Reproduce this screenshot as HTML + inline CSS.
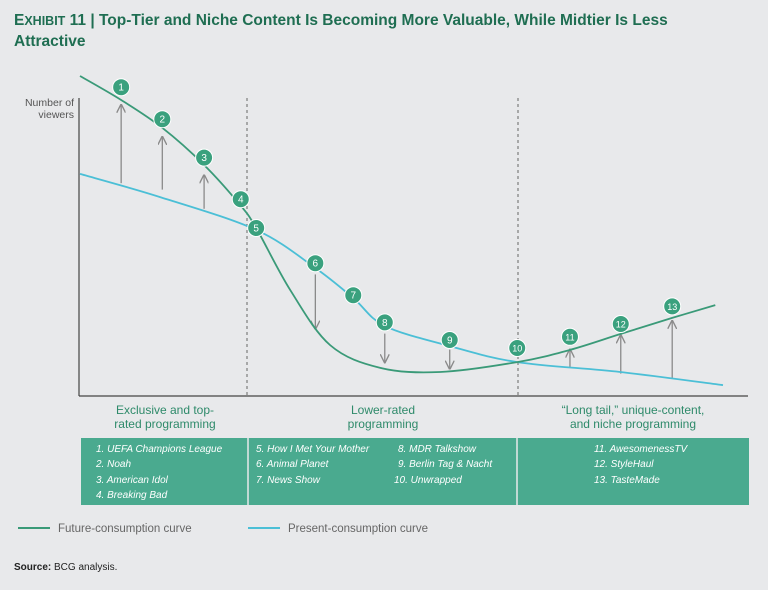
<!DOCTYPE html>
<html><head><meta charset="utf-8"><style>
body{margin:0;background:#e8e9eb;width:768px;height:585px;overflow:hidden;font-family:"Liberation Sans",sans-serif}
</style></head><body>
<svg width="768" height="585" id="svg">
<defs><marker id="ah" viewBox="0 0 10 10" refX="9" refY="5" markerWidth="7" markerHeight="7" orient="auto"><path d="M0,0 L10,5 L0,10" fill="none" stroke="#8a8a8a" stroke-width="1.5"/></marker></defs>
<text x="14" y="25" font-size="15.5" font-weight="bold" fill="#1f6e52"><tspan>E</tspan><tspan font-size="12.5">XHIBIT</tspan> 11 | Top-Tier and Niche Content Is Becoming More Valuable, While Midtier Is Less</text>
<text x="14" y="46" font-size="15.5" font-weight="bold" fill="#1f6e52">Attractive</text>
<text x="74" y="106" font-size="10.5" fill="#555" text-anchor="end">Number of</text>
<text x="74" y="118" font-size="10.5" fill="#555" text-anchor="end">viewers</text>
<line x1="79" y1="98" x2="79" y2="396" stroke="#444" stroke-width="1.2"/>
<line x1="79" y1="396" x2="748" y2="396" stroke="#444" stroke-width="1.2"/>
<line x1="247" y1="98" x2="247" y2="396" stroke="#666" stroke-dasharray="3,3"/>
<line x1="518" y1="98" x2="518" y2="396" stroke="#666" stroke-dasharray="3,3"/>
<g id="arrows"></g><g id="curves"></g><g id="marks"></g>
<g font-size="12" fill="#2e8a6a" text-anchor="middle">
<text x="165" y="414">Exclusive and top-</text>
<text x="165" y="428">rated programming</text>
<text x="383" y="414">Lower-rated</text>
<text x="383" y="428">programming</text>
<text x="633" y="414">“Long tail,” unique-content,</text>
<text x="633" y="428">and niche programming</text>
</g>
<rect x="81" y="438" width="668" height="67" fill="#4aaa8f"/>
<line x1="248" y1="438" x2="248" y2="505" stroke="#e8e9eb" stroke-width="1.5"/>
<line x1="517" y1="438" x2="517" y2="505" stroke="#e8e9eb" stroke-width="1.5"/>
<g font-size="10" fill="#fff" font-style="italic">
<text x="96" y="452">1. UEFA Champions League</text>
<text x="96" y="467">2. Noah</text>
<text x="96" y="483">3. American Idol</text>
<text x="96" y="498">4. Breaking Bad</text>
<text x="256" y="452">5. How I Met Your Mother</text>
<text x="256" y="467">6. Animal Planet</text>
<text x="256" y="483">7. News Show</text>
<text x="398" y="452">8. MDR Talkshow</text>
<text x="398" y="467">9. Berlin Tag &amp; Nacht</text>
<text x="394" y="483">10. Unwrapped</text>
<text x="594" y="452">11. AwesomenessTV</text>
<text x="594" y="467">12. StyleHaul</text>
<text x="594" y="483">13. TasteMade</text>
</g>
<line x1="18" y1="528" x2="50" y2="528" stroke="#3a9a78" stroke-width="2"/>
<text x="58" y="532" font-size="11.5" fill="#666">Future-consumption curve</text>
<line x1="248" y1="528" x2="280" y2="528" stroke="#4bbfd6" stroke-width="2"/>
<text x="288" y="532" font-size="11.5" fill="#666">Present-consumption curve</text>
<text x="14" y="570" font-size="10" fill="#222"><tspan font-weight="bold">Source:</tspan> BCG analysis.</text>
</svg>
<script>
const futureX=[0,6.4,12.8,19.3,24.9,27.4,32.7,38.9,46.7,56,68,76.2,84.1,92.1,98.8];
const futureY=[100,92.5,83.8,72.2,59.7,52.5,33.1,15.9,8.8,7.5,10.6,14.4,19.4,24.4,28.4];
const presentX=[0,12.4,27.4,36.6,42.5,47.4,57.5,68,84,100];
const presentY=[69.4,62.2,51.9,40,30.6,21.9,15.6,10.6,7.5,3.4];
const markerLabels=["1","2","3","4","5","6","7","8","9","10","11","12","13"];
const markerX=[6.4,12.8,19.3,25,27.4,36.6,42.5,47.4,57.5,68,76.2,84.1,92.1];
const markerY=[96.5,86.5,74.5,61.5,52.5,41.5,31.5,23,17.5,15,18.5,22.5,28];
const arrowX=[6.4,12.8,19.3,36.6,47.4,57.5,76.2,84.1,92.1];
const arrowFrom=[66.5,64.5,58.5,38,19.5,14.5,9,7,5.5];
const arrowTo=[91,81,69,21,10.5,8.5,14.5,19,23.5];
const sx=v=>80+v*6.43, sy=v=>396-v*3.2;
const NS="http://www.w3.org/2000/svg";
function smooth(xs,ys){const p=xs.map((x,i)=>[sx(x),sy(ys[i])]);let d="M"+p[0];for(let i=0;i<p.length-1;i++){const a=p[i-1]||p[i],b=p[i],c=p[i+1],e=p[i+2]||c;d+=` C${b[0]+(c[0]-a[0])/6},${b[1]+(c[1]-a[1])/6} ${c[0]-(e[0]-b[0])/6},${c[1]-(e[1]-b[1])/6} ${c[0]},${c[1]}`;}return d;}
const cg=document.getElementById('curves');
[[presentX,presentY,'#4bbfd6','present-curve'],[futureX,futureY,'#3a9a78','future-curve']].forEach(s=>{const p=document.createElementNS(NS,'path');p.setAttribute('d',smooth(s[0],s[1]));p.setAttribute('fill','none');p.setAttribute('stroke',s[2]);p.setAttribute('stroke-width','1.8');


cg.appendChild(p);});
const ag=document.getElementById('arrows');
arrowX.forEach((x,i)=>{const l=document.createElementNS(NS,'line');l.setAttribute('x1',sx(x));l.setAttribute('x2',sx(x));l.setAttribute('y1',sy(arrowFrom[i]));l.setAttribute('y2',sy(arrowTo[i]));l.setAttribute('stroke','#8a8a8a');l.setAttribute('stroke-width','1.3');l.setAttribute('marker-end','url(#ah)');


ag.appendChild(l);});
const mg=document.getElementById('marks');
markerLabels.forEach((t,i)=>{const g=document.createElementNS(NS,'g');


const c=document.createElementNS(NS,'circle');c.setAttribute('cx',sx(markerX[i]));c.setAttribute('cy',sy(markerY[i]));c.setAttribute('r','8.5');c.setAttribute('fill','#3aa17e');c.setAttribute('stroke','#fff');c.setAttribute('stroke-width','1');g.appendChild(c);
const tx=document.createElementNS(NS,'text');tx.setAttribute('x',sx(markerX[i]));tx.setAttribute('y',sy(markerY[i])+3.5);tx.setAttribute('text-anchor','middle');tx.setAttribute('font-size',t.length>1?'9':'10');tx.setAttribute('fill','#fff');tx.textContent=t;g.appendChild(tx);mg.appendChild(g);});
</script>
</body></html>
